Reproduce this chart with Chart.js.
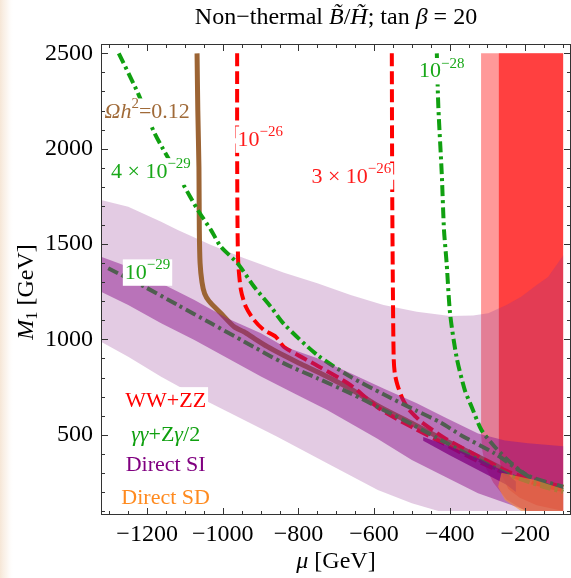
<!DOCTYPE html>
<html>
<head>
<meta charset="utf-8">
<script src="https://cdn.jsdelivr.net/npm/chart.js@4.4.1/dist/chart.umd.min.js"></script>
<style>
  html, body { margin: 0; padding: 0; background: #fff; }
</style>
</head>
<body>
<canvas id="chart" width="571" height="578"></canvas>
<script>
// axis ticks (GeV)
const muTicks = [-1200, -1000, -800, -600, -400, -200];
const m1Ticks = [500, 1000, 1500, 2000, 2500];

// Omega h^2 = 0.12 contour
const omegaMu = [-1068, -1066, -1063, -1062, -1060, -1055, -1048, -1036, -1005, -970, -944, -917, -882, -838, -803, -750, -662, -588, -500, -412, -325, -260];
const omegaM1 = [2500, 2200, 1900, 1573, 1400, 1300, 1240, 1200, 1137, 1066, 1040, 1005, 962, 915, 880, 830, 740, 650, 560, 470, 385, 320];

// WW+ZZ contours
const ww1Mu = [-962, -962, -961, -959, -952, -939, -917, -891, -860, -838, -785, -750, -662, -588, -500, -412, -325, -237, -175, -100];
const ww1M1 = [2500, 2000, 1600, 1399, 1259, 1171, 1101, 1049, 1014, 960, 900, 862, 760, 640, 540, 450, 360, 285, 245, 210];
const ww3Mu = [-553, -552, -550, -548, -545, -538, -525, -509, -490, -474, -412, -325, -237, -167, -100];
const ww3M1 = [2500, 1800, 1224, 900, 820, 760, 690, 635, 595, 565, 481, 387, 300, 262, 225];

// gamma gamma + Z gamma / 2 contours
const gg4Mu = [-1275, -1224, -1180, -1106, -1066, -1031, -1005, -961, -917, -873, -838, -750, -662, -575, -487, -425, -368, -281, -193, -100];
const gg4M1 = [2500, 2290, 2080, 1818, 1678, 1573, 1486, 1399, 1276, 1171, 1080, 918, 804, 712, 625, 565, 495, 402, 285, 227];
const gg1Mu = [-1303, -1207, -1119, -1031, -943, -838, -750, -662, -575, -500, -412, -325, -237, -150, -100];
const gg1M1 = [1373, 1276, 1180, 1084, 988, 874, 796, 717, 630, 555, 460, 370, 285, 225, 200];
const gg28Mu = [-434, -430, -421, -415, -408, -399, -382, -360, -342, -316, -281, -237, -184, -132, -100];
const gg28M1 = [2500, 2220, 1871, 1573, 1399, 1137, 909, 734, 647, 525, 437, 350, 271, 227, 212];

// excluded regions (closed outlines)
const pinkMu = [-317, -100, -100, -200, -250, -285, -305, -314, -317];
const pinkM1 = [2500, 2500, 100, 100, 160, 250, 330, 420, 500];
const redMu = [-270, -100, -100, -170, -215, -245, -260, -267, -270];
const redM1 = [2500, 2500, 100, 130, 170, 215, 280, 360, 430];

// direct detection bands
const siWideMu = [-1322, -1250, -1163, -1119, -1031, -943, -838, -750, -662, -575, -487, -399, -338, -298, -250, -211, -170, -140, -100,
                  -100, -430, -500, -590, -724, -856, -987, -1075, -1163, -1250, -1322];
const siWideM1 = [1731, 1696, 1617, 1573, 1495, 1425, 1350, 1294, 1233, 1180, 1145, 1122, 1125, 1137, 1180, 1224, 1285, 1327, 1440,
                  100, 100, 140, 210, 350, 490, 621, 708, 804, 909, 988];
const siMidMu = [-1322, -1250, -1163, -1075, -987, -899, -838, -750, -662, -575, -487, -412, -325, -254, -193, -100,
                 -100, -193, -237, -325, -412, -500, -592, -724, -812, -899, -987, -1075, -1163, -1250, -1322];
const siMidM1 = [1433, 1381, 1294, 1206, 1110, 1032, 962, 901, 822, 743, 665, 590, 507, 470, 455, 440,
                 100, 100, 131, 193, 280, 367, 480, 630, 717, 805, 901, 997, 1084, 1180, 1250];
const siCoreMu = [-470, -400, -320, -250, -225, -225, -250, -320, -400, -470];
const siCoreM1 = [488, 440, 372, 300, 255, 200, 238, 310, 392, 468];
const sdMu = [-263, -175, -100, -100, -211, -254, -272];
const sdM1 = [300, 262, 215, 100, 100, 158, 227];

const pts = (mu, m1) => mu.map((x, i) => ({ x: x, y: m1[i] }));
const FONT = '"Liberation Serif", "Times New Roman", serif';

function area(mu, m1, color, order) {
  return { data: pts(mu, m1), fill: 'shape', backgroundColor: color, borderColor: 'rgba(0,0,0,0)',
           borderWidth: 0, pointRadius: 0, tension: 0, order: order };
}
function curve(mu, m1, color, dash, width, order) {
  return { data: pts(mu, m1), fill: false, borderColor: color, borderWidth: width, borderDash: dash,
           borderCapStyle: 'butt', pointRadius: 0, tension: 0.25, order: order };
}

const GREEN = '#10a010';
const datasets = [
  area(pinkMu, pinkM1, 'rgba(255,0,0,0.4)', 20),
  area(redMu, redM1, 'rgba(255,0,0,0.58)', 19),
  area(siWideMu, siWideM1, 'rgba(143,47,143,0.25)', 18),
  curve(omegaMu, omegaM1, '#9c6434', [], 5, 17),
  curve(ww1Mu, ww1M1, '#ff0000', [13, 5], 4, 16),
  curve(ww3Mu, ww3M1, '#ff0000', [13, 5], 4, 15),
  curve(gg4Mu, gg4M1, GREEN, [11, 4, 3, 4], 4, 14),
  curve(gg1Mu, gg1M1, GREEN, [11, 4, 3, 4], 4, 13),
  curve(gg28Mu, gg28M1, GREEN, [11, 4, 3, 4], 4, 12),
  area(siMidMu, siMidM1, 'rgba(143,27,143,0.5)', 11),
  area(siCoreMu, siCoreM1, 'rgba(128,0,128,0.75)', 10),
  area(sdMu, sdM1, 'rgba(255,140,40,0.55)', 9)
];

// text placed on the plot, anchored in (mu, M1)
const notes = [
  { mu: -1200, m1: 2192, color: '#a06a38', parts: [{ t: 'Ω', i: 1 }, { t: 'h', i: 1 }, { t: '2', sup: 1 }, { t: '=0.12' }] },
  { mu: -901, m1: 2045, color: '#ff1a1a', parts: [{ t: '10' }, { t: '\u221226', sup: 1 }] },
  { mu: -1190, m1: 1879, color: '#18a818', parts: [{ t: '4 × 10' }, { t: '\u221229', sup: 1 }] },
  { mu: -660, m1: 1853, color: '#ff1a1a', parts: [{ t: '3 × 10' }, { t: '\u221226', sup: 1 }] },
  { mu: -421, m1: 2404, color: '#18a818', parts: [{ t: '10' }, { t: '\u221228', sup: 1 }] },
  { mu: -1199, m1: 1348, color: '#18a818', parts: [{ t: '10' }, { t: '\u221229', sup: 1 }] },
  { mu: -1151, m1: 678, color: '#ff0000', parts: [{ t: 'WW+ZZ' }] },
  { mu: -1151, m1: 495, color: '#10a010', parts: [{ t: 'γγ', i: 1 }, { t: '+Z' }, { t: 'γ', i: 1 }, { t: '/2' }] },
  { mu: -1151, m1: 341, color: '#800080', parts: [{ t: 'Direct SI' }] },
  { mu: -1151, m1: 168, color: '#ff8a1e', parts: [{ t: 'Direct SD' }] }
];

function rich(ctx, parts, x, y, size, color, box) {
  const fontOf = (p) => (p.i ? 'italic ' : '') + ((p.sup || p.sub) ? size * 0.68 : size) + 'px ' + FONT;
  let w = 0;
  parts.forEach((p) => { ctx.font = fontOf(p); p.w = ctx.measureText(p.t).width; w += p.w; });
  let x0 = x - w / 2;
  if (box) {
    ctx.fillStyle = '#fff';
    ctx.fillRect(x0 - 2, y - size * 0.62, w + 4, size * 1.2);
  }
  ctx.textAlign = 'left';
  ctx.textBaseline = 'middle';
  ctx.fillStyle = color;
  parts.forEach((p) => {
    ctx.font = fontOf(p);
    const dy = p.sup ? -size * 0.36 : p.sub ? size * 0.22 : 0;
    ctx.fillText(p.t, x0, y + dy);
    x0 += p.w;
  });
}

const decor = {
  id: 'decor',
  beforeDraw(chart) {
    const ctx = chart.ctx;
    ctx.save();
    ctx.fillStyle = '#fff';
    ctx.fillRect(0, 0, chart.width, chart.height);
    const g = ctx.createLinearGradient(0, 0, 14, 0);
    g.addColorStop(0, 'rgba(244,224,204,0.8)');
    g.addColorStop(0.5, 'rgba(249,236,224,0.5)');
    g.addColorStop(1, 'rgba(255,255,255,0)');
    ctx.fillStyle = g;
    ctx.fillRect(0, 0, 14, chart.height);
    ctx.restore();
  },
  afterDatasetsDraw(chart) {
    const ctx = chart.ctx, xs = chart.scales.x, ys = chart.scales.y;
    ctx.save();
    notes.forEach((n) => rich(ctx, n.parts, xs.getPixelForValue(n.mu), ys.getPixelForValue(n.m1), 22, n.color, true));
    ctx.restore();
  },
  afterDraw(chart) {
    const ctx = chart.ctx, a = chart.chartArea, xs = chart.scales.x, ys = chart.scales.y;
    ctx.save();
    ctx.strokeStyle = '#333';
    ctx.lineWidth = 1;
    ctx.strokeRect(a.left + 0.5, a.top + 0.5, a.right - a.left - 1, a.bottom - a.top - 1);
    ctx.beginPath();
    for (let v = -1300; v <= -100; v += 50) {
      const px = Math.round(xs.getPixelForValue(v)) + 0.5;
      const len = muTicks.includes(v) ? 7 : 4;
      ctx.moveTo(px, a.bottom); ctx.lineTo(px, a.bottom - len);
      ctx.moveTo(px, a.top); ctx.lineTo(px, a.top + len);
    }
    for (let v = 100; v <= 2500; v += 100) {
      const py = Math.round(ys.getPixelForValue(v)) + 0.5;
      const len = m1Ticks.includes(v) ? 7 : 4;
      ctx.moveTo(a.left, py); ctx.lineTo(a.left + len, py);
      ctx.moveTo(a.right, py); ctx.lineTo(a.right - len, py);
    }
    ctx.stroke();

    const mid = 336;
    rich(ctx, [{ t: 'Non\u2212thermal ' }, { t: 'B\u0303', i: 1 }, { t: '/' }, { t: 'H\u0303', i: 1 },
               { t: '; tan ' }, { t: 'β', i: 1 }, { t: ' = 20' }], mid, 18, 24, '#000', false);
    rich(ctx, [{ t: 'μ', i: 1 }, { t: ' [GeV]' }], mid, 562, 24, '#000', false);
    ctx.translate(27, 292);
    ctx.rotate(-Math.PI / 2);
    rich(ctx, [{ t: 'M', i: 1 }, { t: '1', sub: 1 }, { t: ' [GeV]' }], 0, 0, 24, '#000', false);
    ctx.restore();
  }
};

new Chart(document.getElementById('chart'), {
  type: 'line',
  data: { datasets: datasets },
  options: {
    responsive: false,
    animation: false,
    devicePixelRatio: 1,
    layout: { padding: { top: 44, right: -2, left: 0, bottom: 0 } },
    plugins: { legend: { display: false }, tooltip: { enabled: false } },
    scales: {
      x: {
        type: 'linear', min: -1322, max: -79.2,
        afterBuildTicks: (s) => { s.ticks = muTicks.map((v) => ({ value: v })); },
        afterFit: (s) => { s.height = 63; },
        grid: { display: false, drawTicks: false },
        border: { display: false },
        ticks: { color: '#000', padding: 5, maxRotation: 0, autoSkip: false,
                 font: { family: FONT, size: 24 },
                 callback: (v) => '\u2212' + Math.abs(v) }
      },
      y: {
        type: 'linear', min: 79, max: 2549,
        afterBuildTicks: (s) => { s.ticks = m1Ticks.map((v) => ({ value: v })); },
        afterFit: (s) => { s.width = 101; },
        grid: { display: false, drawTicks: false },
        border: { display: false },
        ticks: { color: '#000', padding: 8, autoSkip: false,
                 font: { family: FONT, size: 24 },
                 callback: (v) => String(v) }
      }
    }
  },
  plugins: [decor]
});
</script>
</body>
</html>
